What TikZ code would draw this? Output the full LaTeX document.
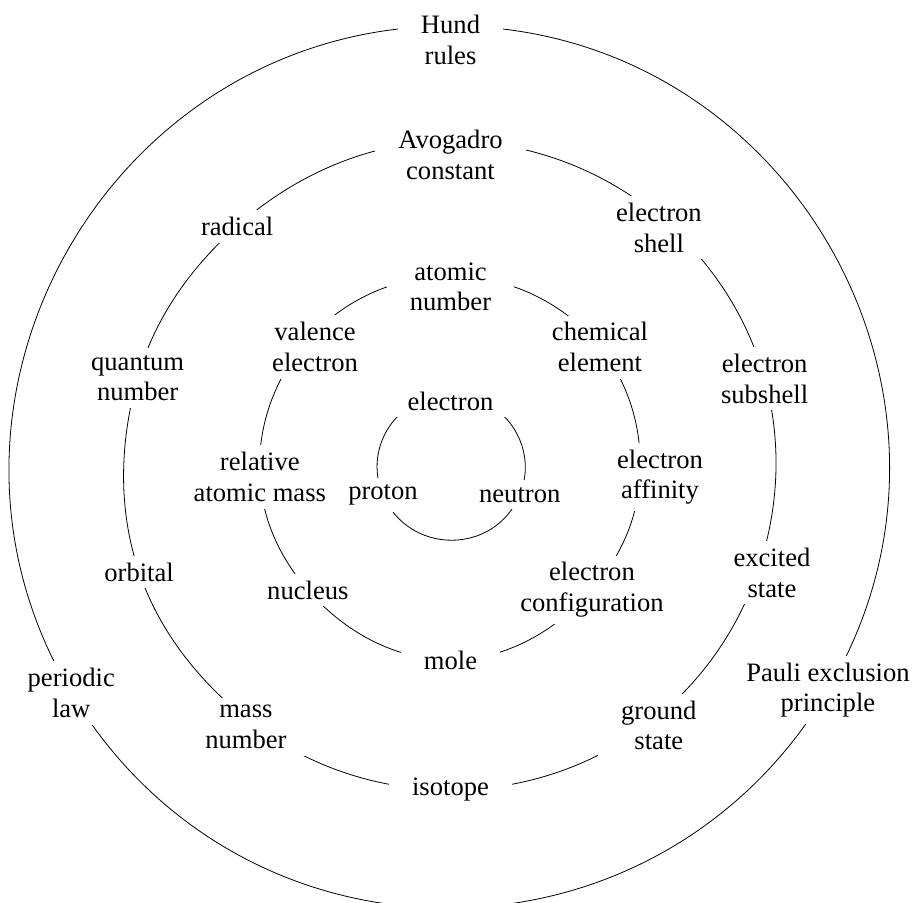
\documentclass[tikz,border=0pt]{standalone}
\usepackage{fontspec}
\setmainfont{Liberation Serif}
\usetikzlibrary{backgrounds}

\begin{document}
\begin{tikzpicture}[x=0.5pt, y=0.5pt, line width=0.8pt]
  \tikzstyle{concept}=[fill=white, align=center, inner xsep=11.5pt, inner ysep=3.5pt, font=\fontsize{13.3}{15.2}\selectfont]
  \tikzstyle{ring2}=[looseness=0.89]
  \tikzstyle{ring3}=[looseness=0.875]
  \tikzstyle{ring4}=[looseness=1.135]

  \useasboundingbox (-450.5,-437) rectangle (463.5,466);

  % inner ring
  \node[concept] (electron) at (90:65) {electron};
  \node[concept] (neutron) at (-22.6:75) {neutron};
  \node[concept] (proton) at (203.3:73.5) {proton};

  % second ring
  \node[concept] (atomic) at (90:179) {atomic\\number};
  \node[concept] (element) at (38.5:191) {chemical\\element};
  \node[concept] (affinity) at (-3:209.8) {electron\\affinity};
  \node[concept] (config) at (-41.2:188) {electron\\configuration};
  \node[concept] (mole) at (-90:194) {mole};
  \node[concept] (nucleus) at (221:189) {nucleus};
  \node[concept] (relative) at (183.3:191) {relative\\atomic mass};
  \node[concept] (valence) at (138.7:180.3) {valence\\electron};

  % third ring
  \node[concept] (avogadro) at (90:311) {Avogadro\\constant};
  \node[concept] (shell) at (48.8:316.4) {electron\\shell};
  \node[concept] (subshell) at (15.5:326) {electron\\subshell};
  \node[concept] (excited) at (-18.4:338.8) {excited\\state};
  \node[concept] (ground) at (-51.2:332.5) {ground\\state};
  \node[concept] (isotope) at (-90:324) {isotope};
  \node[concept] (massnum) at (231.9:331.6) {mass\\number};
  \node[concept] (orbital) at (198.8:329) {orbital};
  \node[concept] (quantum) at (164.3:325) {quantum\\number};
  \node[concept] (radical) at (131.65:321) {radical};

  % outer ring
  \node[concept] (hund) at (90:426) {Hund\\rules};
  \node[concept] (pauli) at (-30.7:439) {Pauli exclusion\\principle};
  \node[concept] (periodic) at (210.9:442) {periodic\\law};

  \begin{pgfonlayer}{background}
    \path ([shift={(90:7)}]electron.center) edge[out=0, in=67.4, looseness=1.095] (neutron.center)
          (neutron.center) edge[out=-112.6, in=-66.7, looseness=1.225] (proton.center)
          (proton.center) edge[out=113.3, in=180, looseness=1.1] ([shift={(90:7)}]electron.center);

    \path ([shift={(90:11)}]atomic.center) edge[ring2, out=0, in=128.5] (element.center)
          (element.center) edge[ring2, out=-51.5, in=87] ([shift={(-3:-20)}]affinity.center)
          ([shift={(-3:-20)}]affinity.center) edge[ring2, out=-93, in=48.8] (config.center)
          (config.center) edge[ring2, out=-131.2, in=0] (mole.center)
          (mole.center) edge[ring2, out=180, in=-49] (nucleus.center)
          (nucleus.center) edge[ring2, out=131, in=273.3] (relative.center)
          (relative.center) edge[ring2, out=93.3, in=228.7] ([shift={(138.7:10)}]valence.center)
          ([shift={(138.7:10)}]valence.center) edge[ring2, out=48.7, in=180] ([shift={(90:11)}]atomic.center);

    \path ([shift={(90:14)}]avogadro.center) edge[ring3, out=0, in=138.8] ([shift={(48.8:8.6)}]shell.center)
          ([shift={(48.8:8.6)}]shell.center) edge[ring3, out=-41.2, in=105.5] (subshell.center)
          (subshell.center) edge[ring3, out=-74.5, in=71.6] ([shift={(-18.4:-14)}]excited.center)
          ([shift={(-18.4:-14)}]excited.center) edge[ring3, out=-108.4, in=38.8] ([shift={(-51.2:-7.5)}]ground.center)
          ([shift={(-51.2:-7.5)}]ground.center) edge[ring3, out=-141.2, in=0] (isotope.center)
          (isotope.center) edge[ring3, out=180, in=-38.1] ([shift={(231.9:-6.6)}]massnum.center)
          ([shift={(231.9:-6.6)}]massnum.center) edge[ring3, out=141.9, in=288.8] (orbital.center)
          (orbital.center) edge[ring3, out=108.8, in=254.3] (quantum.center)
          (quantum.center) edge[ring3, out=74.3, in=221.65] (radical.center)
          (radical.center) edge[ring3, out=41.65, in=180] ([shift={(90:14)}]avogadro.center);

    \path ([shift={(90:14)}]hund.center) edge[ring4, out=0, in=59.3] (pauli.center)
          (pauli.center) edge[ring4, out=-120.7, in=-59.1] (periodic.center)
          (periodic.center) edge[ring4, out=120.9, in=180] ([shift={(90:14)}]hund.center);
  \end{pgfonlayer}
\end{tikzpicture}
\end{document}
